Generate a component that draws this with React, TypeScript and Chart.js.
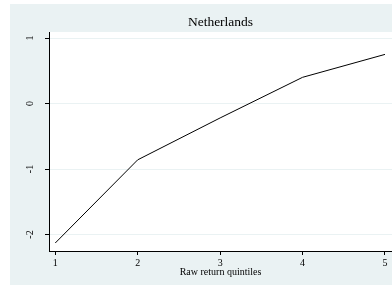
import React, { useEffect, useRef } from "react";
import { Chart, registerables } from "chart.js";

Chart.register(...registerables);

const quintiles = [1, 2, 3, 4, 5];
const values = [-2.13, -0.86, -0.22, 0.4, 0.75];
const yTicks = [-2, -1, 0, 1];
const xTicks = [1, 2, 3, 4, 5];
const titleText = "Netherlands";
const xTitle = "Raw return quintiles";

const FONT = "'Liberation Serif', 'Times New Roman', serif";

const bgPlugin = {
  id: "stataBg",
  beforeDraw(chart: any) {
    const { ctx, chartArea } = chart;
    ctx.save();
    ctx.fillStyle = "#ffffff";
    ctx.fillRect(0, 0, chart.width, chart.height);
    ctx.fillStyle = "#eaf2f3";
    ctx.fillRect(10, 4, chart.width - 10, 281);
    ctx.fillStyle = "#ffffff";
    ctx.fillRect(
      chartArea.left,
      chartArea.top,
      chartArea.right - chartArea.left,
      chartArea.bottom - chartArea.top
    );
    ctx.restore();
  },
};

export default function App() {
  const ref = useRef<HTMLCanvasElement | null>(null);

  useEffect(() => {
    if (!ref.current) return;
    const chart = new Chart(ref.current, {
      type: "line",
      data: {
        datasets: [
          {
            data: quintiles.map((x, i) => ({ x, y: values[i] })),
            borderColor: "#000000",
            borderWidth: 1,
            pointRadius: 0,
            tension: 0,
            fill: false,
          },
        ],
      },
      options: {
        responsive: false,
        animation: false,
        layout: { padding: { left: 10, top: 4, right: 0, bottom: 0 } },
        plugins: {
          legend: { display: false },
          tooltip: { enabled: false },
          title: {
            display: true,
            text: titleText,
            fullSize: false,
            color: "#000000",
            font: { family: FONT, size: 13.5, weight: "normal" },
            padding: { top: 10.4, bottom: 1.4 },
          },
        },
        scales: {
          x: {
            type: "linear",
            min: 0.924,
            max: 5.085,
            afterBuildTicks: (s: any) => {
              s.ticks = xTicks.map((v) => ({ value: v }));
            },
            afterFit: (s: any) => {
              s.height = 37;
            },
            grid: {
              drawOnChartArea: false,
              drawTicks: true,
              tickLength: 4,
              tickColor: "#000000",
            },
            border: { display: true, color: "#000000", width: 1 },
            ticks: {
              color: "#000000",
              font: { family: FONT, size: 10 },
              padding: 2,
              maxRotation: 0,
              autoSkip: false,
            },
            title: {
              display: true,
              text: xTitle,
              color: "#000000",
              font: { family: FONT, size: 10 },
              padding: { top: 0, bottom: 10 },
            },
          },
          y: {
            type: "linear",
            min: -2.252,
            max: 1.092,
            afterBuildTicks: (s: any) => {
              s.ticks = yTicks.map((v) => ({ value: v }));
            },
            afterFit: (s: any) => {
              s.width = 39;
            },
            grid: {
              color: "#eaf2f3",
              tickColor: "#000000",
              tickLength: 4,
            },
            border: { display: true, color: "#000000", width: 1 },
            ticks: {
              color: "#000000",
              font: { family: FONT, size: 10 },
              minRotation: 90,
              maxRotation: 90,
              crossAlign: "center",
              padding: 10.8,
              autoSkip: false,
            },
          },
        },
      },
      plugins: [bgPlugin],
    } as any);
    return () => chart.destroy();
  }, []);

  return (
    <canvas
      ref={ref}
      width={392}
      height={288}
      style={{ position: "absolute", left: 0, top: 0, display: "block" }}
    />
  );
}
